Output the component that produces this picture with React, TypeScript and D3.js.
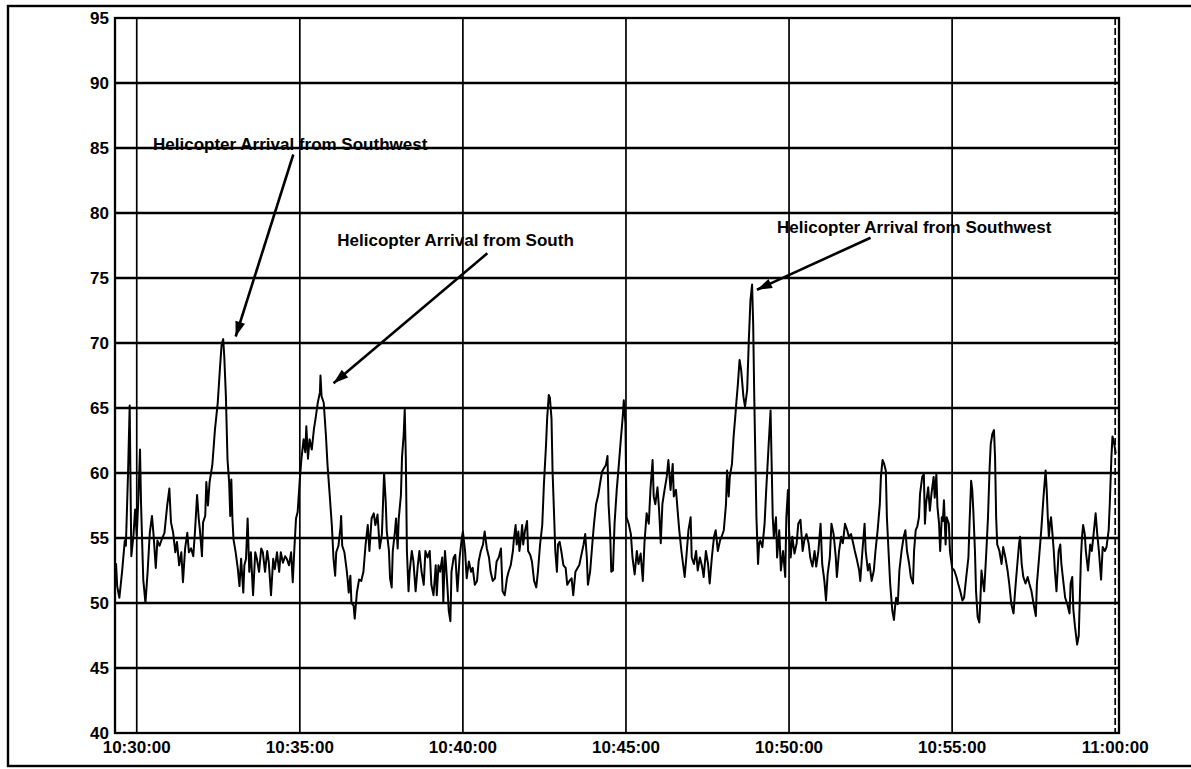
import React from "react";
import * as d3 from "d3";

const WIDTH = 1191;
const HEIGHT = 769;

// Sound level record, seconds relative to 10:30:00 and level in dB(A)
const seg1030: [number, number][] = [
  [-40, 52.6], [-38, 53], [-36, 51.3], [-32, 50.4], [-27, 52.4], [-22, 54.8], [-20, 54.4], [-16, 60],
  [-13, 65.2], [-11, 57.5], [-10, 53.6], [-6, 55.2], [-3, 57.2], [0, 55.2], [3, 58], [6, 61.8],
  [8, 57.5], [12, 51.8], [16, 50], [20, 52.4], [24, 55.4], [28, 56.7], [31, 55.2], [35, 52.7],
  [38, 54.8], [42, 54.4], [46, 54.9], [51, 55.4], [56, 57.5], [60, 58.8], [63, 56.2], [67, 55.4],
  [71, 53.9], [74, 54.7], [78, 52.9], [82, 53.9], [85, 51.6], [89, 54.2], [93, 55.4], [96, 53.9],
  [100, 54.2], [104, 53.6], [107, 55.4], [111, 58.3], [114, 56.5], [116, 55.7], [120, 53.6], [122, 56.2],
  [126, 56.7], [128, 59.3], [131, 57.5], [134, 59.3], [139, 60.6], [144, 63.4], [149, 65.4], [153, 68],
  [156, 69.8], [159, 70.3], [161, 69], [164, 65.9], [167, 61], [170, 59.3], [172, 56.7], [174, 59.5],
  [176, 56.5], [178, 54.9], [182, 53.9], [186, 52.6], [189, 51.3], [192, 53.4], [196, 50.8], [198, 52.9],
  [201, 53.4], [204, 56.5], [207, 52.4], [210, 53.9], [214, 50.6], [218, 53.9], [221, 53.4], [225, 52.4],
  [229, 54.2], [232, 53.9], [236, 52.4], [240, 54], [243, 53.1], [247, 50.6], [251, 53.4], [254, 52.6],
  [258, 53.9], [262, 52.4], [265, 53.9], [269, 53.1], [273, 53.6], [276, 53.4], [280, 52.9], [284, 53.9],
  [287, 51.6], [290, 54.2], [293, 56.5], [296, 57],
];

const seg1035: [number, number][] = [
  [300, 59.5], [303, 61.1], [307, 62.6], [310, 61.6], [312, 63.6], [315, 61.1], [318, 62.6], [322, 61.8],
  [326, 63.4], [329, 64.2], [333, 65.4], [337, 66.2], [338, 67.5], [340, 65.9], [344, 65.4], [348, 62.9],
  [351, 60.6], [355, 58.3], [359, 55.9], [362, 53.4], [365, 52.1], [367, 53.9], [371, 54.4], [375, 55.9],
  [376, 56.7], [378, 54.4], [382, 53.9], [386, 52.6], [388, 51.8], [390, 50.8], [393, 52.1], [395, 50],
  [399, 49.8], [401, 48.8], [405, 50.8], [409, 51.8], [413, 51.7], [417, 52.4], [421, 54.5], [425, 56],
  [428, 54], [432, 56.5], [436, 56.9], [439, 56], [443, 56.8], [447, 54.2], [451, 55.3], [453, 57.6],
  [455, 60], [458, 57.8], [460, 55.5], [464, 54], [466, 51.9], [469, 51.2], [471, 54], [475, 55.5],
  [477, 56.5], [480, 54.2], [482, 56.5], [486, 58.3], [488, 61.2], [491, 62.9], [493, 64.9], [495, 61.2],
  [497, 54], [500, 50.9], [502, 52.4], [506, 54], [509, 53.2], [513, 50.9], [517, 52.9], [520, 54],
  [524, 52.4], [528, 51.4], [531, 54], [535, 53.5], [539, 54], [542, 51.4], [546, 50.6], [550, 52.9],
  [552, 50.6], [555, 52.9], [558, 52.4], [562, 53.5], [564, 50.1], [567, 54], [569, 52.9], [572, 50.9],
  [574, 49.4], [577, 48.6], [579, 52.4], [583, 53.5], [586, 53.7], [590, 50.9], [594, 53.5], [598, 55],
];

const seg1040: [number, number][] = [
  [600, 55.5], [604, 54], [607, 51.9], [611, 53.2], [615, 52.4], [618, 52.7], [622, 51.4], [626, 51.7],
  [629, 53.2], [633, 54], [637, 54.5], [640, 55.5], [644, 54.2], [648, 53.5], [651, 52.4], [655, 51.7],
  [659, 51.9], [662, 53.2], [666, 53.5], [670, 54.2], [673, 50.9], [677, 50.6], [681, 51.9], [684, 52.4],
  [688, 52.9], [692, 54], [694, 55], [697, 56], [699, 54.5], [702, 55.5], [704, 54], [707, 55],
  [709, 56], [711, 54.5], [714, 55.5], [718, 56.3], [720, 54], [724, 53.7], [727, 53.2], [731, 51.7],
  [735, 51.2], [738, 52.4], [742, 54.5], [746, 56], [749, 59.1], [753, 62.2], [755, 64.2], [758, 66],
  [760, 65.8], [763, 64.2], [765, 60.1], [768, 56.5], [770, 54], [773, 52.4], [775, 54.5], [778, 54.7],
  [781, 54], [785, 52.9], [789, 52.7], [792, 51.4], [796, 51.7], [800, 51.9], [803, 50.6], [807, 52.4],
  [811, 52.7], [814, 52.9], [818, 53.7], [822, 54.5], [825, 55.3], [828, 53.5], [830, 51.4], [834, 52.4],
  [838, 54.5], [841, 56], [845, 57.6], [849, 58.3], [852, 59.1], [856, 60.1], [860, 60.4], [863, 60.6],
  [866, 61.3], [868, 57.6], [871, 55.3], [873, 52.4], [876, 52.5], [879, 56.1], [883, 58.7], [887, 60.7],
  [890, 62.3], [894, 64.3], [896, 65.6], [899, 63.8],
];

const seg1045: [number, number][] = [
  [901, 56.6], [905, 56.1], [909, 55.3], [912, 53.5], [916, 52.2], [920, 54], [923, 53], [927, 53.8],
  [931, 51.7], [934, 54.6], [938, 56.9], [942, 56.1], [945, 58.7], [949, 61], [951, 58.2], [954, 57.6],
  [958, 58.9], [961, 57.1], [964, 54.6], [967, 57.6], [971, 58.7], [975, 59.7], [978, 61], [982, 58.7],
  [986, 60.7], [988, 58.2], [992, 58.7], [996, 56.6], [998, 55.6], [1002, 54], [1005, 53], [1008, 52],
  [1011, 53.5], [1015, 55.6], [1019, 56.6], [1021, 53.5], [1025, 53], [1029, 54], [1032, 52.5], [1036, 53.5],
  [1040, 52.8], [1043, 52], [1047, 54], [1051, 53], [1054, 51.5], [1058, 53.5], [1062, 55.1], [1065, 55.6],
  [1069, 54], [1073, 54.8], [1076, 55.1], [1080, 55.6], [1084, 57.6], [1086, 60.2], [1089, 58.2], [1091, 59.7],
  [1095, 60.7], [1098, 62.8], [1101, 64.3], [1103, 65.4], [1106, 66.9], [1109, 68.7], [1112, 67.9], [1116, 65.9],
  [1119, 65.1], [1123, 66.4], [1126, 70.2], [1129, 73.3], [1132, 74.5], [1134, 71.5], [1136, 65.9], [1138, 61.2],
  [1140, 56.6], [1143, 53], [1145, 54.6], [1147, 54.8], [1151, 54.3], [1155, 56.1], [1158, 58.7], [1162, 61.8],
  [1166, 64.8], [1168, 60.7], [1170, 56.6], [1172, 55.1], [1176, 56.6], [1178, 53.5], [1182, 55.6], [1185, 52.5],
  [1189, 54], [1193, 52], [1195, 56.6], [1198, 58.7],
];

const seg1050: [number, number][] = [
  [1200, 55.6], [1203, 53.5], [1206, 55.1], [1210, 53.8], [1214, 54.6], [1217, 56.1], [1221, 56.4], [1225, 54],
  [1228, 54.8], [1232, 55.3], [1236, 54.6], [1239, 53.5], [1243, 52.8], [1247, 54], [1250, 52.8], [1254, 54],
  [1258, 56.1], [1261, 53], [1265, 51.7], [1268, 50.2], [1271, 52.2], [1275, 53.5], [1278, 56.1], [1282, 55.3],
  [1286, 53.5], [1288, 52], [1292, 54], [1296, 55.1], [1299, 54.6], [1303, 56.1], [1307, 55.6], [1310, 55.1],
  [1314, 55.3], [1318, 54.6], [1321, 54], [1325, 53.3], [1329, 52.5], [1331, 51.7], [1335, 54], [1339, 56.1],
  [1341, 54], [1345, 52.5], [1348, 53], [1352, 51.7], [1356, 52.5], [1359, 54], [1363, 55.6], [1367, 57.6],
  [1369, 59.7], [1372, 61], [1375, 60.7], [1378, 60.2], [1380, 56.6], [1383, 54], [1386, 51.5], [1390, 49.4],
  [1393, 48.7], [1395, 49.7], [1397, 50.4], [1400, 49.9], [1403, 52.5], [1407, 54], [1411, 55.1], [1414, 55.6],
  [1417, 54], [1421, 53], [1424, 52], [1428, 51.5], [1430, 54], [1433, 55.6], [1436, 55.9], [1439, 56.6],
  [1441, 58.4], [1445, 59.7], [1448, 59.9], [1450, 56.1], [1452, 57.6], [1456, 58.9], [1459, 57.1], [1462, 58.4],
  [1466, 59.7], [1468, 58.1], [1471, 59.9], [1473, 57.4], [1476, 56.1], [1478, 54], [1481, 56.6], [1483, 56.3],
  [1485, 57.9], [1488, 54.5], [1490, 56.6], [1494, 56.1], [1496, 54], [1500, 52.7],
];

const seg1055: [number, number][] = [
  [1504, 52.5], [1508, 52], [1511, 51.5], [1515, 50.9], [1519, 50.2], [1522, 50.4], [1526, 52], [1530, 53.5],
  [1532, 56.1], [1535, 59.4], [1537, 58.7], [1539, 57.1], [1542, 54], [1544, 50.9], [1547, 48.9], [1550, 48.5],
  [1552, 50.2], [1554, 52.5], [1557, 51.5], [1559, 50.9], [1563, 54], [1566, 56.6], [1569, 60.4], [1571, 62.2],
  [1574, 63], [1577, 63.3], [1579, 61.2], [1581, 56.6], [1583, 54.5], [1587, 54], [1591, 53], [1594, 54.3],
  [1598, 53.5], [1602, 52.5], [1605, 51.5], [1609, 49.9], [1613, 49.2], [1615, 50.4], [1617, 51.5], [1619, 52.5],
  [1623, 54.5], [1625, 55.1], [1628, 53], [1631, 52], [1635, 51.5], [1639, 52], [1642, 51.5], [1646, 50.9],
  [1650, 49.9], [1654, 49], [1656, 51.5], [1660, 53.5], [1664, 55.6], [1668, 58.1], [1672, 60.2], [1674, 58.7],
  [1676, 56.6], [1678, 55.1], [1680, 56.1], [1682, 56.6], [1685, 55.1], [1687, 54], [1689, 52.5], [1692, 50.9],
  [1696, 54], [1699, 54.5], [1701, 53], [1705, 51.5], [1708, 50.4], [1712, 49.9], [1716, 49.2], [1718, 51.5],
  [1721, 52], [1723, 49.5], [1726, 48.2], [1730, 46.8], [1733, 47.5], [1735, 50.5], [1737, 53.5], [1739, 55.1],
  [1741, 56], [1744, 55.3], [1746, 54], [1750, 52.5], [1754, 54.5], [1757, 54], [1761, 55.6], [1764, 56.9],
  [1767, 55.3], [1770, 54], [1774, 51.8], [1777, 54.3], [1781, 54], [1784, 54.3], [1788, 55.6], [1790, 57.6],
  [1793, 61.2], [1795, 62.8], [1798, 62.3], [1801, 61.5],
];

const timeTicks = [0, 300, 600, 900, 1200, 1500, 1800];
const levelTicks = [40, 45, 50, 55, 60, 65, 70, 75, 80, 85, 90, 95];

// Callouts in chart units: [seconds from 10:30:00, level]
const callouts = [
  { text: "Helicopter Arrival from Southwest", label: [30, 84.85], tail: [288, 84.5], tip: [182, 70.5] },
  { text: "Helicopter Arrival from South", label: [369, 77.5], tail: [645, 76.9], tip: [362, 66.9] },
  { text: "Helicopter Arrival from Southwest", label: [1178, 78.5], tail: [1350, 78.1], tip: [1141, 74.1] },
];

const start = new Date(2000, 0, 1, 10, 30, 0).getTime();
const at = (s: number) => new Date(start + s * 1000);

const FONT = "'Liberation Sans', Arial, sans-serif";

export default function App() {
  const left = 115, right = 1119, top = 18, bottom = 733;
  const x = d3.scaleTime().domain([at(-40), at(1807)]).range([left, right]);
  const y = d3.scaleLinear().domain([40, 95]).range([bottom, top]);
  const fmt = d3.timeFormat("%H:%M:%S");

  const series = [...seg1030, ...seg1035, ...seg1040, ...seg1045, ...seg1050, ...seg1055];
  const line = d3
    .line<[number, number]>()
    .x((d) => x(at(d[0])))
    .y((d) => y(d[1]));

  const arrowHead = (tx: number, ty: number, fx: number, fy: number) => {
    const ang = Math.atan2(ty - fy, tx - fx);
    const len = 15, half = 5;
    const bx = tx - len * Math.cos(ang), by = ty - len * Math.sin(ang);
    const px = -Math.sin(ang) * half, py = Math.cos(ang) * half;
    return `M${tx},${ty}L${bx + px},${by + py}L${bx - px},${by - py}Z`;
  };

  return (
    <svg
      width={WIDTH}
      height={HEIGHT}
      style={{ position: "absolute", left: 0, top: 0, background: "#fff" }}
      fontFamily={FONT}
    >
      <rect x={0} y={0} width={WIDTH} height={HEIGHT} fill="#fff" />
      {/* outer frame */}
      <rect x={8} y={6} width={1200} height={760} fill="none" stroke="#000" strokeWidth={2.4} />

      {/* horizontal grid */}
      {levelTicks.slice(1, -1).map((v) => (
        <line key={"h" + v} x1={left} x2={right} y1={y(v)} y2={y(v)} stroke="#000" strokeWidth={2.3} />
      ))}
      {/* vertical grid */}
      {timeTicks.map((s) => (
        <line
          key={"v" + s}
          x1={x(at(s))}
          x2={x(at(s))}
          y1={top}
          y2={bottom}
          stroke="#000"
          strokeWidth={1.7}
          strokeDasharray={s === 1800 ? "7 3" : undefined}
        />
      ))}

      {/* level trace */}
      <path d={line(series) ?? ""} fill="none" stroke="#000" strokeWidth={2} strokeLinejoin="round" />

      {/* plot frame */}
      <rect x={left} y={top} width={right - left} height={bottom - top} fill="none" stroke="#000" strokeWidth={2.3} />

      {/* y tick labels */}
      {levelTicks.map((v) => (
        <text
          key={"yl" + v}
          x={left - 6}
          y={y(v)}
          dy="0.35em"
          textAnchor="end"
          fontSize={17}
          fontWeight="bold"
        >
          {v}
        </text>
      ))}
      {/* x tick labels */}
      {timeTicks.map((s) => (
        <text
          key={"xl" + s}
          x={x(at(s))}
          y={bottom + 20}
          textAnchor="middle"
          fontSize={17}
          fontWeight="bold"
        >
          {fmt(at(s))}
        </text>
      ))}

      {/* callouts */}
      {callouts.map((c, i) => {
        const tx = x(at(c.tip[0])), ty = y(c.tip[1]);
        const fx = x(at(c.tail[0])), fy = y(c.tail[1]);
        return (
          <g key={"c" + i}>
            <text x={x(at(c.label[0]))} y={y(c.label[1])} fontSize={17} fontWeight="bold">
              {c.text}
            </text>
            <line x1={fx} y1={fy} x2={tx} y2={ty} stroke="#000" strokeWidth={2.6} />
            <path d={arrowHead(tx, ty, fx, fy)} fill="#000" />
          </g>
        );
      })}
    </svg>
  );
}
